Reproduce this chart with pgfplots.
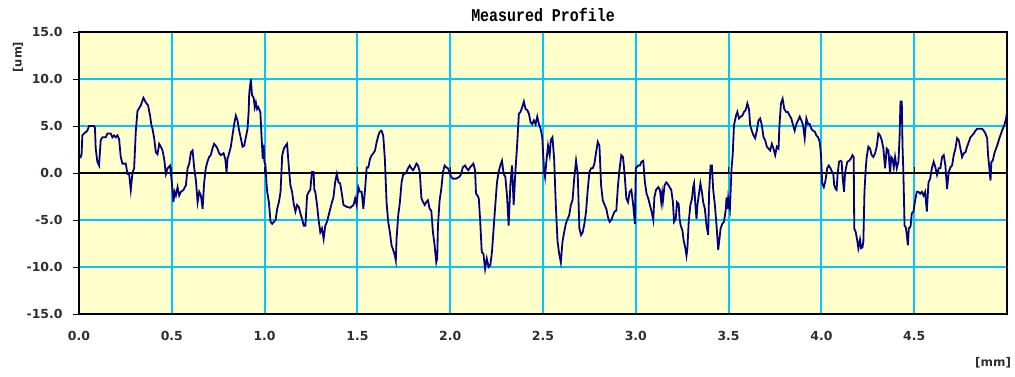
\documentclass[border=0pt]{standalone}
\usepackage{fontspec}
\setmainfont{DejaVu Sans}
\newfontfamily\titlefont{Liberation Mono}
\usepackage{pgfplots}
\usepackage{pgfplotstable}
\pgfplotsset{compat=1.18}

\definecolor{bgyellow}{RGB}{255,255,204}
\definecolor{gridcyan}{RGB}{0,200,255}
\definecolor{navyline}{RGB}{0,0,128}
\definecolor{labelgray}{RGB}{45,45,55}

% profile: x in mm, height in um
\pgfplotstableread{
x y
0.000 1.9
0.009 1.7
0.014 2.0
0.018 4.0
0.027 4.2
0.045 4.5
0.054 5.0
0.081 5.0
0.086 4.8
0.090 2.6
0.099 1.2
0.108 0.8
0.117 3.5
0.126 3.8
0.144 3.8
0.153 4.2
0.171 4.2
0.180 3.8
0.189 4.0
0.198 3.8
0.207 4.0
0.216 3.6
0.225 1.7
0.234 1.0
0.252 1.0
0.261 -0.1
0.270 -0.1
0.279 -1.8
0.288 0.0
0.297 0.5
0.306 4.4
0.315 6.6
0.333 7.2
0.347 8.0
0.360 7.5
0.372 7.2
0.383 6.1
0.390 5.1
0.396 4.7
0.405 3.7
0.414 2.2
0.423 2.0
0.432 3.1
0.441 2.8
0.450 2.4
0.459 1.5
0.468 -0.1
0.477 0.5
0.491 0.8
0.500 -1.0
0.509 -3.1
0.515 -2.0
0.522 -2.4
0.531 -1.5
0.540 -2.4
0.549 -2.0
0.563 -1.8
0.576 -1.3
0.585 0.5
0.594 1.0
0.603 2.2
0.612 2.4
0.621 0.5
0.630 -0.8
0.639 -3.1
0.648 -2.0
0.657 -2.4
0.666 -3.8
0.674 -1.1
0.683 0.5
0.692 1.2
0.701 1.7
0.710 1.9
0.719 2.6
0.728 3.1
0.737 2.9
0.746 2.6
0.755 2.1
0.764 1.9
0.779 2.1
0.788 1.5
0.795 0.1
0.800 1.5
0.809 2.1
0.818 2.8
0.827 4.0
0.836 5.2
0.845 6.1
0.854 5.6
0.863 4.5
0.872 3.7
0.881 2.8
0.890 2.9
0.899 3.8
0.908 4.7
0.914 6.5
0.917 8.4
0.926 10.0
0.932 8.3
0.941 8.0
0.947 7.0
0.953 7.5
0.960 6.8
0.966 7.0
0.977 6.5
0.984 3.7
0.990 1.5
0.995 3.0
0.999 1.2
1.005 0.8
1.010 -1.0
1.014 -2.0
1.023 -3.1
1.032 -5.2
1.041 -5.4
1.050 -5.2
1.059 -5.0
1.068 -3.8
1.077 -3.1
1.086 -2.0
1.095 1.9
1.104 2.6
1.113 2.9
1.121 3.1
1.130 0.8
1.139 -1.3
1.148 -2.0
1.157 -3.3
1.166 -4.1
1.175 -3.4
1.184 -3.6
1.193 -4.3
1.202 -4.9
1.211 -5.6
1.220 -5.6
1.229 -2.4
1.238 -2.0
1.246 -1.8
1.255 0.1
1.264 0.1
1.268 -1.8
1.273 -2.0
1.282 -3.3
1.291 -5.0
1.300 -6.3
1.309 -5.9
1.318 -7.0
1.327 -5.6
1.336 -5.2
1.345 -4.5
1.354 -3.8
1.363 -3.1
1.371 -2.6
1.380 -1.0
1.389 -0.1
1.398 -1.0
1.407 -1.1
1.416 -2.2
1.425 -3.4
1.443 -3.6
1.461 -3.7
1.479 -3.4
1.488 -2.7
1.496 -3.4
1.505 -1.5
1.514 -2.0
1.523 -2.0
1.532 -3.8
1.541 -1.8
1.550 0.6
1.559 0.6
1.568 1.5
1.577 1.9
1.586 2.1
1.595 2.4
1.604 3.3
1.613 4.0
1.621 4.4
1.630 4.5
1.639 4.0
1.648 1.5
1.657 -3.1
1.666 -5.2
1.675 -6.3
1.684 -7.7
1.693 -8.2
1.702 -8.8
1.707 -9.3
1.711 -7.0
1.720 -4.5
1.729 -3.1
1.738 -1.0
1.746 -0.2
1.755 -0.1
1.764 0.1
1.773 0.5
1.782 0.8
1.791 0.5
1.800 0.3
1.809 0.6
1.818 1.0
1.827 0.8
1.836 0.1
1.845 -2.7
1.854 -3.1
1.863 -3.4
1.871 -3.1
1.880 -2.9
1.889 -3.8
1.898 -4.0
1.907 -6.3
1.916 -7.7
1.925 -9.5
1.930 -9.1
1.934 -5.6
1.943 -2.9
1.952 -1.7
1.961 0.1
1.970 0.8
1.979 0.6
1.988 0.5
1.996 0.1
2.005 -0.4
2.014 -0.6
2.032 -0.6
2.050 -0.4
2.059 -0.1
2.068 0.6
2.080 0.8
2.089 0.5
2.098 0.3
2.107 0.6
2.116 0.8
2.125 1.0
2.134 0.3
2.139 -2.2
2.147 -2.4
2.154 -2.7
2.161 -4.9
2.170 -8.4
2.179 -8.6
2.188 -10.2
2.197 -9.1
2.207 -10.0
2.216 -9.8
2.225 -8.4
2.234 -5.9
2.243 -3.4
2.252 -1.0
2.261 0.1
2.270 0.8
2.279 1.3
2.288 -0.1
2.297 -0.4
2.306 -2.4
2.315 -5.6
2.324 -1.3
2.333 0.8
2.342 -3.4
2.351 0.1
2.361 3.1
2.370 6.3
2.379 6.5
2.388 7.0
2.397 7.6
2.406 6.8
2.415 6.7
2.424 6.3
2.433 5.4
2.442 5.2
2.451 5.6
2.460 5.2
2.469 6.0
2.478 5.2
2.487 4.7
2.496 3.8
2.505 0.5
2.511 -0.4
2.518 1.2
2.527 2.9
2.536 1.9
2.542 3.5
2.551 3.8
2.560 1.5
2.569 -3.4
2.578 -7.2
2.587 -8.6
2.596 -9.5
2.605 -7.3
2.614 -6.3
2.623 -5.4
2.632 -4.9
2.641 -4.5
2.650 -3.4
2.659 -2.9
2.668 -0.6
2.678 1.3
2.687 -0.1
2.696 -5.9
2.705 -6.6
2.714 -6.3
2.723 -5.4
2.732 -4.1
2.741 -1.8
2.750 0.1
2.759 0.5
2.768 0.5
2.777 1.0
2.786 2.2
2.795 3.3
2.804 2.9
2.813 -1.3
2.822 -2.9
2.832 -3.4
2.841 -3.8
2.850 -4.7
2.859 -5.2
2.868 -5.0
2.877 -4.5
2.886 -4.1
2.895 -4.0
2.904 -1.3
2.913 0.5
2.922 1.9
2.931 1.7
2.940 -0.2
2.949 -2.7
2.958 -3.1
2.967 -2.0
2.976 -1.8
2.986 -3.4
2.995 -5.4
3.000 0.5
3.013 0.8
3.022 0.8
3.031 1.2
3.040 1.3
3.049 -1.0
3.058 -2.2
3.067 -2.7
3.076 -3.4
3.085 -4.1
3.094 -5.0
3.100 -2.6
3.109 -1.8
3.121 -1.5
3.130 -1.8
3.137 -3.1
3.142 -2.2
3.146 -3.0
3.155 -1.3
3.164 -1.0
3.173 -1.2
3.182 -1.5
3.191 -1.8
3.200 -3.1
3.206 -5.2
3.215 -4.9
3.222 -3.1
3.231 -3.3
3.236 -4.9
3.242 -5.6
3.251 -6.1
3.258 -7.2
3.267 -8.0
3.273 -8.8
3.278 -8.0
3.285 -5.2
3.294 -3.4
3.303 -2.7
3.309 -1.5
3.314 -1.1
3.321 -3.4
3.327 -4.9
3.332 -3.4
3.339 -2.4
3.348 -1.1
3.356 -2.0
3.363 -3.1
3.372 -3.8
3.381 -5.6
3.390 -6.6
3.395 -2.0
3.403 0.8
3.410 0.8
3.417 -1.8
3.426 -3.4
3.435 -5.6
3.444 -8.2
3.449 -7.3
3.457 -5.9
3.466 -5.4
3.475 -5.2
3.484 -4.0
3.489 -2.6
3.495 -3.8
3.498 -2.7
3.507 -3.8
3.516 0.5
3.522 1.9
3.529 5.1
3.540 6.1
3.547 6.5
3.556 5.8
3.565 6.0
3.574 6.1
3.583 6.5
3.592 6.7
3.601 7.4
3.610 6.8
3.616 5.1
3.625 4.5
3.634 4.0
3.643 3.7
3.652 4.5
3.661 5.6
3.670 5.8
3.679 5.1
3.688 3.8
3.697 3.5
3.706 2.8
3.715 2.6
3.724 2.4
3.733 3.1
3.742 2.6
3.751 1.9
3.760 2.8
3.769 2.6
3.774 5.1
3.782 7.4
3.791 7.9
3.800 6.8
3.810 6.5
3.819 6.5
3.829 6.1
3.838 5.8
3.847 5.1
3.856 4.5
3.865 5.2
3.874 5.6
3.883 6.0
3.892 5.6
3.901 5.1
3.910 3.7
3.919 5.8
3.928 5.2
3.937 5.2
3.946 4.7
3.955 4.5
3.964 4.4
3.973 4.0
3.982 3.8
3.991 3.3
3.998 1.9
4.004 -1.1
4.013 -1.5
4.022 -0.8
4.031 0.5
4.040 0.8
4.049 0.5
4.058 0.1
4.064 -0.1
4.069 -1.3
4.077 -1.7
4.082 -1.8
4.087 -0.2
4.095 1.2
4.104 1.3
4.109 1.2
4.114 -0.4
4.122 -2.0
4.127 -0.1
4.132 0.5
4.140 1.2
4.149 1.3
4.158 1.5
4.167 1.9
4.174 1.7
4.177 -5.9
4.185 -6.3
4.194 -7.3
4.199 -8.0
4.208 -7.1
4.214 -8.0
4.221 -7.9
4.226 -7.3
4.232 -2.0
4.239 0.5
4.244 1.7
4.253 2.8
4.262 2.6
4.271 1.9
4.280 1.7
4.289 2.1
4.298 2.8
4.307 4.2
4.316 4.0
4.325 3.5
4.334 2.6
4.343 0.5
4.352 2.6
4.361 2.4
4.370 -0.1
4.376 1.7
4.383 1.5
4.390 0.6
4.397 1.7
4.406 0.5
4.415 1.2
4.421 3.7
4.426 7.6
4.433 7.6
4.437 2.9
4.442 -0.2
4.448 -5.6
4.455 -5.8
4.460 -6.6
4.466 -7.7
4.471 -5.9
4.480 -5.7
4.487 -4.3
4.496 -4.1
4.505 -2.9
4.514 -2.0
4.523 -2.0
4.532 -2.2
4.541 -2.0
4.550 -2.4
4.559 -2.0
4.568 -4.1
4.577 -1.0
4.586 -0.6
4.595 0.5
4.605 1.2
4.614 0.6
4.623 -0.2
4.632 0.5
4.641 0.5
4.650 1.7
4.659 1.9
4.668 0.8
4.677 -1.7
4.686 0.1
4.695 0.6
4.704 0.8
4.713 1.9
4.722 2.6
4.731 3.7
4.740 3.5
4.749 2.6
4.758 1.7
4.767 2.1
4.776 2.2
4.785 2.8
4.794 3.3
4.803 3.8
4.812 4.0
4.821 4.2
4.830 4.5
4.839 4.7
4.866 4.7
4.875 4.5
4.884 4.2
4.893 3.7
4.898 1.9
4.905 0.5
4.911 -0.8
4.916 1.2
4.923 1.3
4.932 2.1
4.941 2.6
4.950 3.1
4.959 3.7
4.968 4.2
4.977 4.7
4.986 5.1
4.995 5.8
5.000 6.5
}\profile

\begin{document}
\begin{tikzpicture}
\begin{axis}[
    scale only axis,
    width=928bp, height=282bp,
    xmin=0, xmax=5,
    ymin=-15, ymax=15,
    axis background/.style={fill=bgyellow},
    axis line style={black, line width=1.3bp},
    xtick={0,0.5,1,1.5,2,2.5,3,3.5,4,4.5},
    xticklabels={0.0,0.5,1.0,1.5,2.0,2.5,3.0,3.5,4.0,4.5},
    ytick={-15,-10,-5,0,5,10,15},
    yticklabels={-15.0,-10.0,-5.0,0.0,5.0,10.0,15.0},
    grid=major,
    grid style={gridcyan, line width=2bp},
    tick pos=left,
    tick align=outside,
    major tick length=6bp,
    major y tick style={black, line width=1bp},
    major x tick style=transparent,
    tick label style={font=\bfseries\fontsize{12.5}{13}\selectfont, text=labelgray},
    yticklabel style={xshift=-7bp},
    xticklabel style={yshift=-8bp},
    title={Measured Profile},
    title style={font=\titlefont\bfseries\fontsize{15}{15}\selectfont, at={(0.5,1)}, anchor=base, yshift=5bp, inner sep=0pt, yscale=1.2},
    xlabel={[mm]},
    xlabel style={font=\bfseries\fontsize{12}{12}\selectfont, text=labelgray, at={(rel axis cs:0.985,0)}, anchor=center, yshift=-49bp},
    ylabel={[um]},
    ylabel style={font=\bfseries\fontsize{11.5}{12}\selectfont, text=labelgray, at={(rel axis cs:0,0.911)}, anchor=center, yshift=61bp},
]
% zero line with the small x ticks that sit on it
\draw[black, line width=1.5bp] (axis cs:0,0) -- (axis cs:5,0);
\pgfplotsinvokeforeach{0.5,1,1.5,2,2.5,3,3.5,4,4.5}{
  \draw[black, line width=1bp] (axis cs:#1,0) -- (axis cs:#1,0.6);
}
\addplot[navyline, line width=1.8bp, mark=none] table[x=x, y=y] {\profile};
\end{axis}
\path ([shift={(-79bp,-62bp)}]current axis.south west) rectangle ([shift={(8bp,32bp)}]current axis.north east);
\end{tikzpicture}
\end{document}
